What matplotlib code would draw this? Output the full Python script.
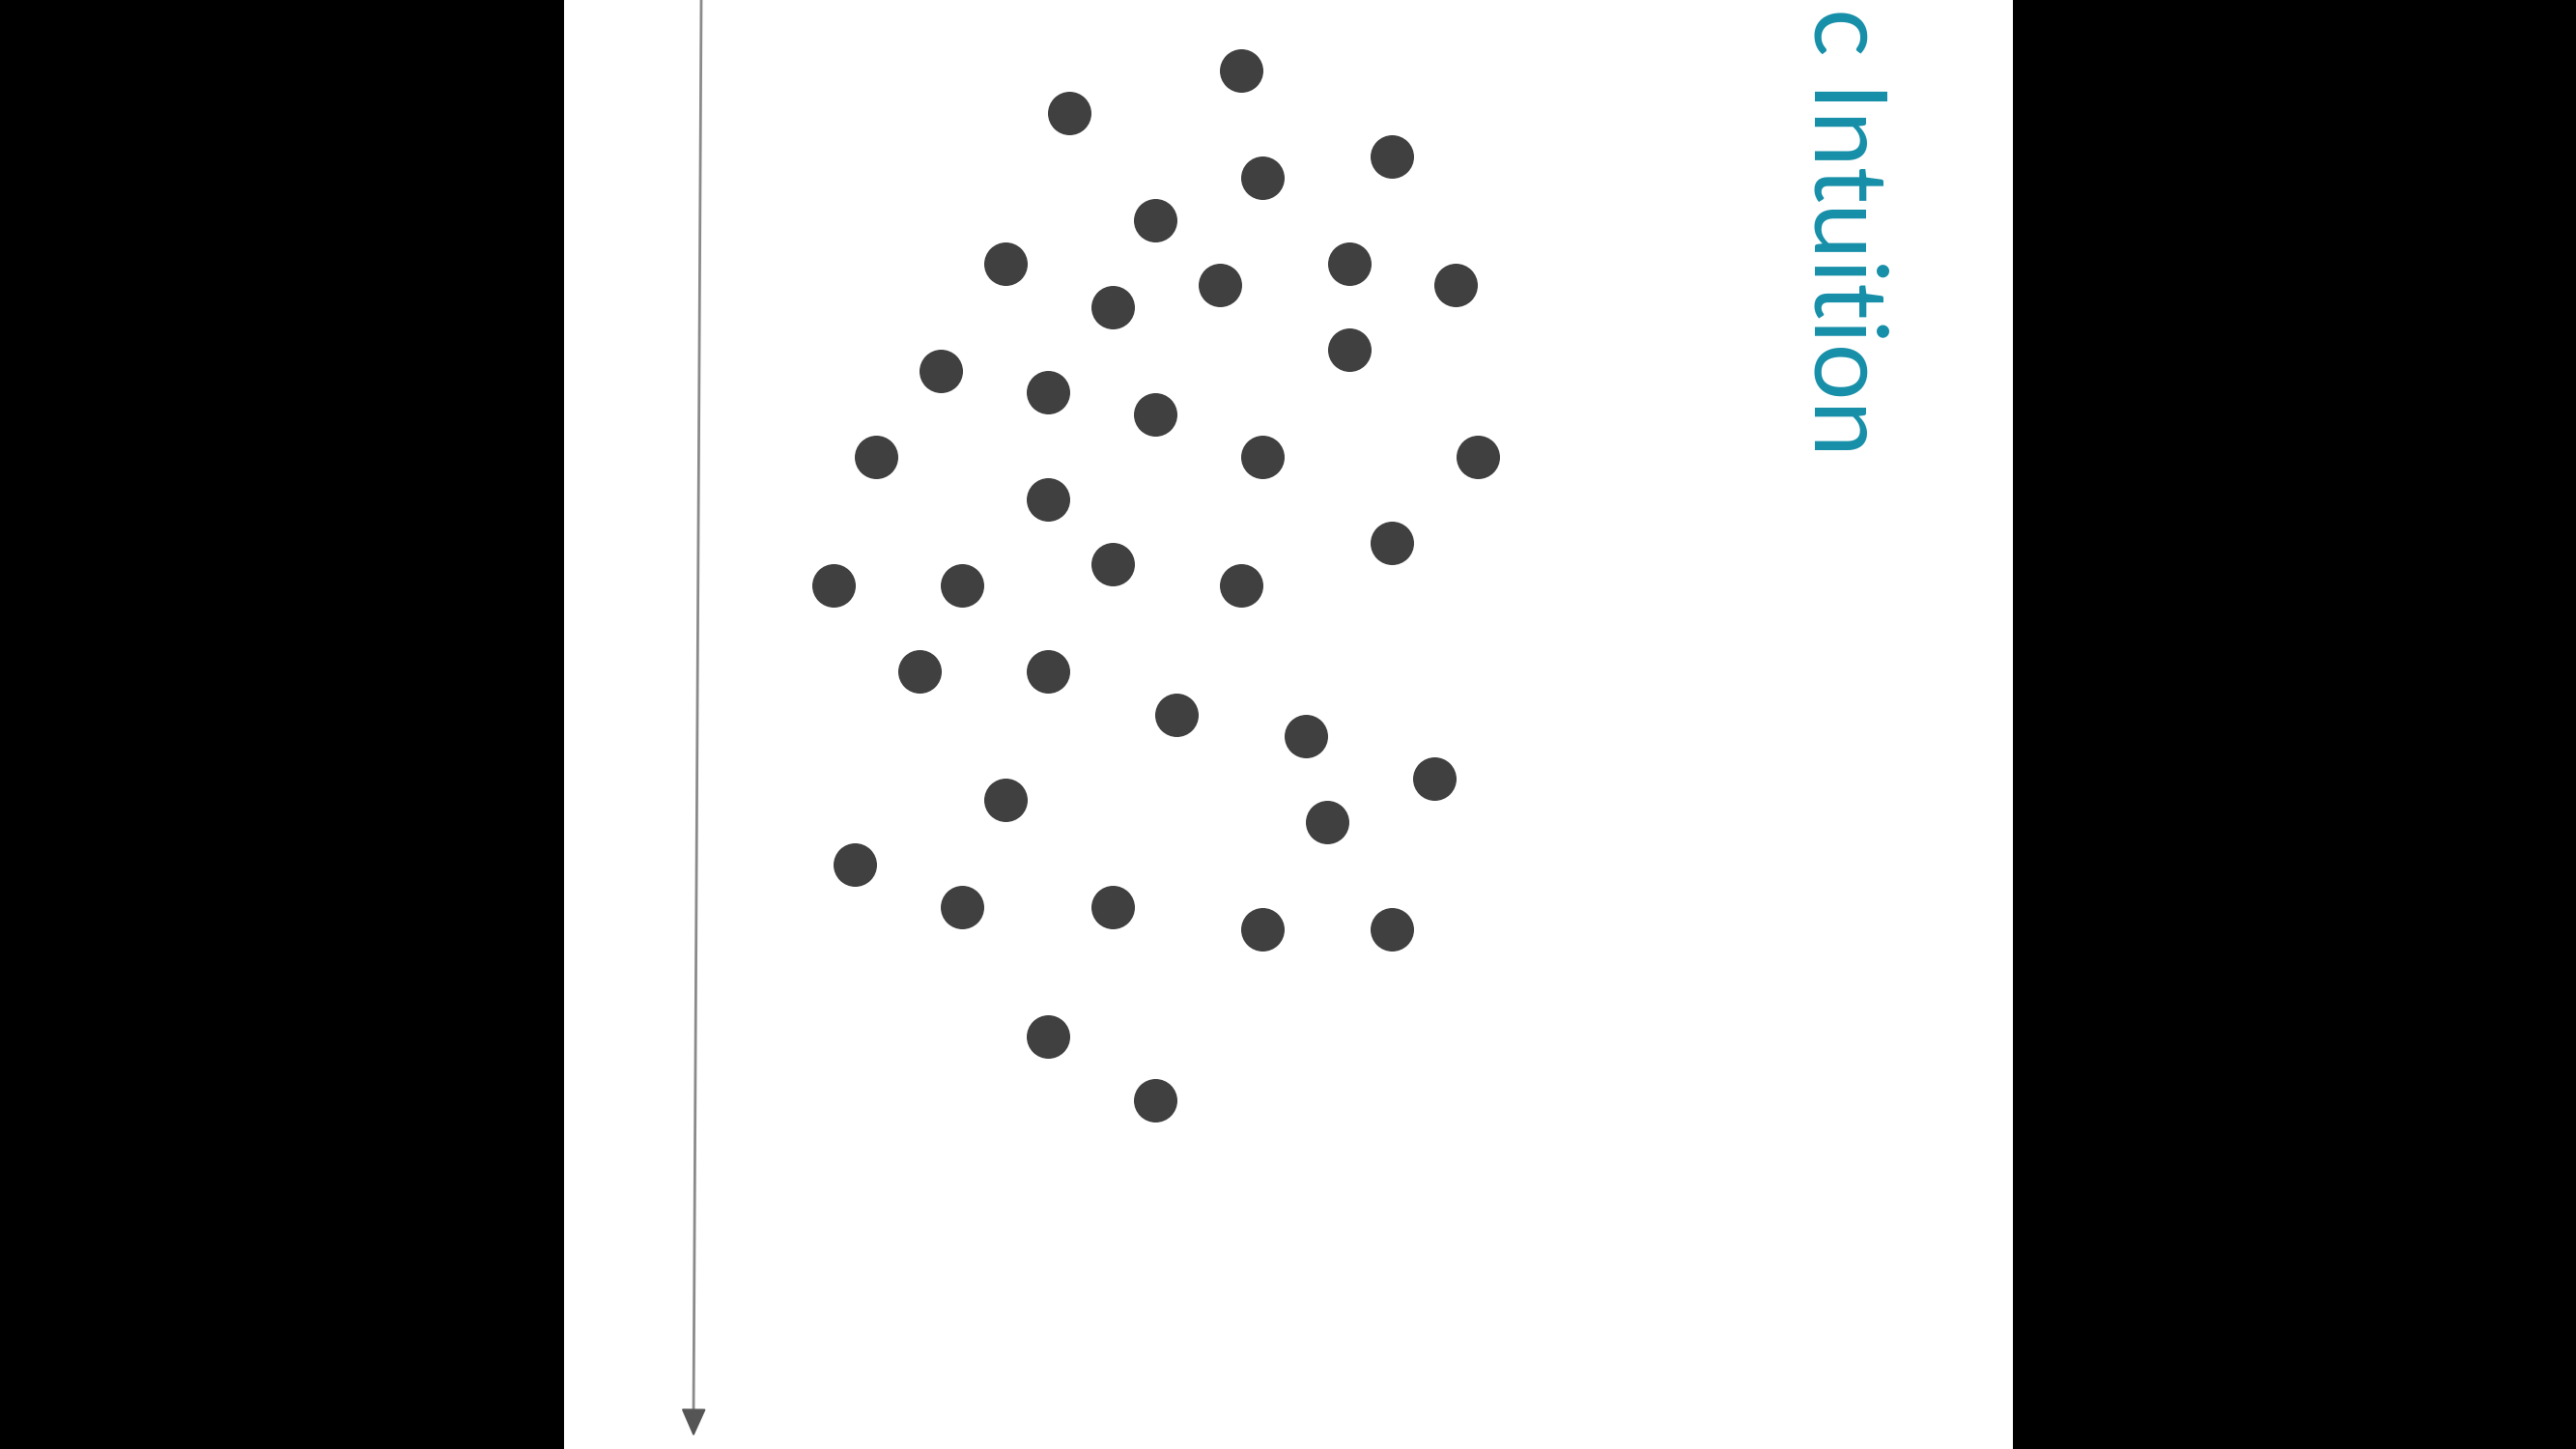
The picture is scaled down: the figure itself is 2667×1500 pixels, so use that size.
import matplotlib.pyplot as plt

# dot positions, in pixels of the white panel (y grows downward)
dot_x = [701, 523, 857, 723, 612, 457, 568, 679, 813, 923, 813, 390, 501,
         612, 323, 723, 946, 501, 857, 279, 412, 568, 701, 368, 501, 634,
         768, 901, 457, 790, 301, 412, 568, 723, 857, 501, 612]
dot_y = [73, 117, 162, 184, 228, 273, 318, 295, 273, 295, 362, 384, 406,
         429, 473, 473, 473, 517, 562, 606, 606, 584, 606, 695, 695, 740,
         762, 806, 828, 851, 895, 939, 939, 962, 962, 1073, 1139]

arrow_start = (142, 0)
arrow_end = (134, 1487)
title = 'c Intuition'

fig = plt.figure(figsize=(26.67, 15), dpi=100, facecolor='black')
ax = fig.add_axes([584 / 2667, 0, 1500 / 2667, 1])
ax.set_facecolor('white')
ax.set_xlim(0, 1500)
ax.set_ylim(1500, 0)
ax.axis('off')
ax.add_artist(plt.Rectangle((0, 0), 1500, 1500, color='white', zorder=0))

ax.scatter(dot_x, dot_y, s=1050, color='#404040', linewidths=0, zorder=3)

# shaft, then a darker head
ax.plot([arrow_start[0], arrow_end[0]], [arrow_start[1], arrow_end[1] - 20],
        color='#8a8a8a', lw=2.0, solid_capstyle='butt')
ax.annotate('', xy=arrow_end, xytext=(arrow_end[0] + 0.2, arrow_end[1] - 24),
            arrowprops=dict(arrowstyle='-|>,head_length=1.8,head_width=0.8',
                            color='#555555', lw=1.5, shrinkA=0, shrinkB=0))

ax.text(1294, 8, title, rotation=-90, rotation_mode='anchor',
        ha='left', va='baseline', fontsize=75, family='Lato',
        color='#168FA8')

fig.savefig('out.png', dpi=100, facecolor=fig.get_facecolor())
